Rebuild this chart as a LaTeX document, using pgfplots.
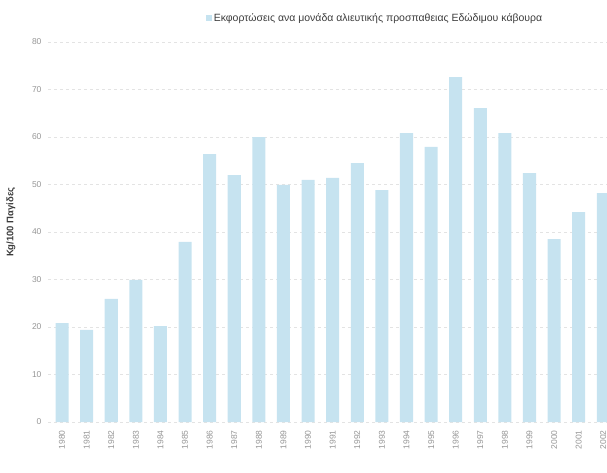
\documentclass[border=0pt]{standalone}
\usepackage{pgfplots}
\pgfplotsset{compat=1.18}
\usepackage{fontspec}
\setmainfont{Liberation Sans}
\definecolor{barblue}{RGB}{198,227,240}
\definecolor{ticktext}{RGB}{150,150,150}
\definecolor{labtext}{RGB}{60,60,60}
\begin{document}
\begin{tikzpicture}[x=1pt,y=1pt]
\begin{axis}[
  at={(48pt,50pt)}, anchor=south west,
  scale only axis, width=559pt, height=380pt,
  xmin=-0.57, xmax=22.15, ymin=0, ymax=80,
  ytick={0,10,...,80},
  xtick={0,...,22},
  xticklabels={1980,1981,1982,1983,1984,1985,1986,1987,1988,1989,1990,1991,1992,1993,1994,1995,1996,1997,1998,1999,2000,2001,2002},
  x tick label style={rotate=90, anchor=east, font=\fontsize{8.5}{9}\selectfont, text=ticktext, xshift=-5pt},
  y tick label style={font=\fontsize{8.5}{9}\selectfont, text=ticktext, xshift=-3pt},
  /pgf/number format/assume math mode=true,
  axis line style={draw=none},
  major tick length=0pt,
  ymajorgrids, grid style={dashed, gray!22},
  ylabel={Kg/100 Παγίδες},
  ylabel style={font=\fontsize{9.5}{10}\selectfont\bfseries, text=labtext,
    at={(axis description cs:-0.052,0.526)}, anchor=south, rotate=0},
  legend style={draw=none, fill=none, at={(0.585,1.063)}, anchor=center,
    font=\fontsize{10.5}{11}\selectfont, text=labtext},
  legend image code/.code={\fill[barblue] (0pt,-3pt) rectangle (6pt,3pt);},
]
\addplot[ybar, bar width=0.53, fill=barblue, draw=none] coordinates {
(0,20.8) (1,19.4) (2,25.9) (3,29.9) (4,20.2) (5,37.9) (6,56.4) (7,52.0)
(8,60.0) (9,49.9) (10,51.0) (11,51.4) (12,54.5) (13,48.8) (14,60.8) (15,57.9)
(16,72.6) (17,66.1) (18,60.8) (19,52.4) (20,38.5) (21,44.2) (22,48.2)};
\addlegendentry{Εκφορτώσεις ανα μονάδα αλιευτικής προσπαθειας Εδώδιμου κάβουρα}
\end{axis}
\pgfresetboundingbox
\useasboundingbox (0,0) rectangle (607,472);
\end{tikzpicture}
\end{document}
